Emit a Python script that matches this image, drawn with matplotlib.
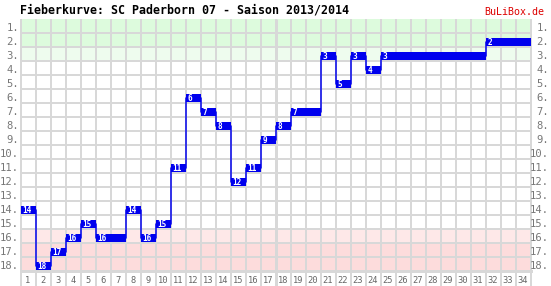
import numpy as np
import matplotlib
matplotlib.use('Agg')
import matplotlib.pyplot as plt
from matplotlib.patches import Rectangle

# Tabellenplatz pro Spieltag
matchdays = list(range(1, 35))
positions = [14, 18, 17, 16, 15, 16, 16, 14, 16, 15,
             11, 6, 7, 8, 12, 11, 9, 8, 7, 7,
             3, 5, 3, 4, 3, 3, 3, 3, 3, 3,
             3, 2, 2, 2]
n_teams = 18
title = 'Fieberkurve: SC Paderborn 07 - Saison 2013/2014'
source = 'BuLiBox.de'

# Hintergrundzonen: (von, bis, farbe)
zones = [(1, 2, '#ddfbdd'), (3, 3, '#eefcee'),
         (16, 16, '#fee8e8'), (17, 18, '#fddcdc')]

BLUE = '#0000ee'
GRID = '#d8d8d8'
MONO = 'DejaVu Sans Mono'
PX = 0.72  # 1 pixel in points bei dpi 100

fig = plt.figure(figsize=(5.51, 2.86), dpi=100)
ax = fig.add_axes([20.5 / 551, 15 / 286, 510 / 551, 252 / 286])
ax.set_xlim(0.5, len(matchdays) + 0.5)
ax.set_ylim(n_teams + 0.5, 0.5)

for lo, hi, col in zones:
    ax.add_patch(Rectangle((0.5, lo - 0.5), len(matchdays), hi - lo + 1,
                           facecolor=col, edgecolor='none', zorder=0))

# Raster
for x in np.arange(0.5, len(matchdays) + 1):
    ax.plot([x, x], [0.5, n_teams + 0.5 + 15 / 14], color=GRID,
            lw=2 * PX, zorder=1, clip_on=False, solid_capstyle='butt')
for y in np.arange(1.5, n_teams + 0.5):
    ax.axhline(y, color=GRID, lw=2 * PX, zorder=1)
# Saisonmitte
ax.plot([17.5, 17.5], [0.5, n_teams + 0.5 + 15 / 14], color=GRID,
        lw=3 * PX, zorder=1, clip_on=False, solid_capstyle='butt')

# Balken und Verbindungslinie
top_off, bar_h = -0.14, 0.57
pos = np.array(positions)
md = np.array(matchdays)
edges = np.append(md - 0.5, md[-1] + 0.5)
ax.step(edges, np.append(pos, pos[-1]) + top_off + bar_h / 2, where='post',
        color=BLUE, lw=1.5 * PX, zorder=3)
ax.bar(md, bar_h, bottom=pos + top_off, width=1.0, color=BLUE,
       edgecolor='none', zorder=4)

prev = None
for d, p in zip(matchdays, positions):
    if p != prev:
        ax.text(d - 0.5 + 2 / 15, p + top_off + bar_h / 2 + 0.02, str(p),
                color='white', fontsize=5.6, family=MONO, fontweight='bold',
                ha='left', va='center', zorder=5)
    prev = p

# Achsen
for s in ['top', 'left', 'right']:
    ax.spines[s].set_visible(False)
ax.spines['bottom'].set_color(GRID)
ax.spines['bottom'].set_linewidth(3 * PX)
ax.set_xticks([])
ax.set_yticks([])

ytr = ax.get_yaxis_transform()
for r in range(1, n_teams + 1):
    ax.text(-1.5 / 510, r + 0.12, f'{r}.', transform=ytr, ha='right',
            va='center', fontsize=7.6, family=MONO, color='#777777')
    ax.text(1 + 18.5 / 510, r + 0.12, f'{r}.', transform=ytr, ha='right',
            va='center', fontsize=7.6, family=MONO, color='#777777')

for d in matchdays:
    ax.text(d, n_teams + 0.5 + 9.5 / 14, str(d), ha='center', va='center',
            fontsize=6.3, family=MONO, color='#666666', clip_on=False)

fig.text(20 / 551, 1 - 10 / 286, title, ha='left', va='center',
         fontsize=8.4, family=MONO, fontweight='bold', color='black')
fig.text(544 / 551, 1 - 12 / 286, source, ha='right', va='center',
         fontsize=7.2, family=MONO, color='#dd0000')

fig.savefig('out.png', dpi=100)
